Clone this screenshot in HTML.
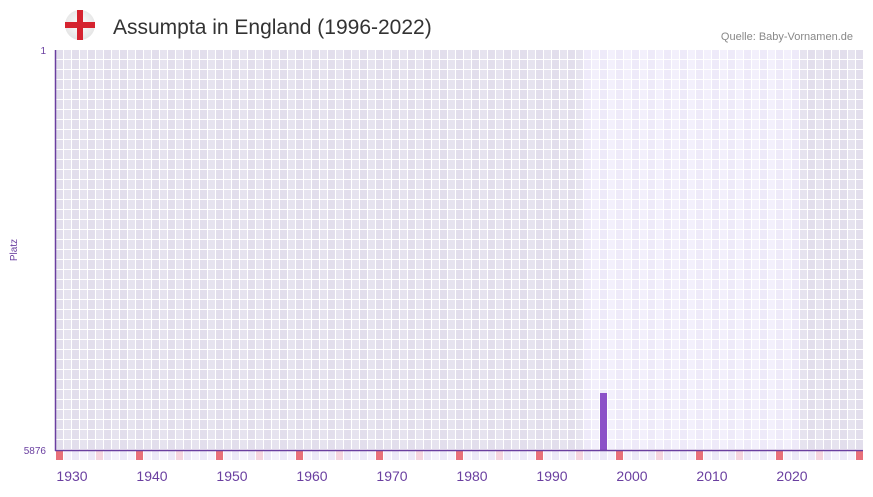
<!DOCTYPE html>
<html><head><meta charset="utf-8"><style>
body{margin:0;background:#fff;width:873px;height:492px;overflow:hidden;font-family:"Liberation Sans",sans-serif}
</style></head><body>
<svg id="s" width="873" height="492" xmlns="http://www.w3.org/2000/svg">
<defs><radialGradient id="g" cx="50%" cy="45%" r="55%"><stop offset="0" stop-color="#fff"/><stop offset="1" stop-color="#e4e4e4"/></radialGradient></defs>
<circle cx="80" cy="25" r="15" fill="url(#g)"/>
<rect x="65" y="22" width="30" height="6" fill="#d5232f"/>
<rect x="77" y="10" width="6" height="30" fill="#d5232f"/>
<text x="113" y="34" font-size="21" fill="#333">Assumpta in England (1996-2022)</text>
<text x="853" y="40" font-size="11" fill="#888" text-anchor="end">Quelle: Baby-Vornamen.de</text>
<g id="grid"></g>
<rect x="600" y="393" width="7" height="57" fill="#8c52c8"/>
<line x1="55.5" y1="50" x2="55.5" y2="451" stroke="#6a3fa0" stroke-width="1.5"/>
<line x1="55" y1="450.5" x2="863" y2="450.5" stroke="#6a3fa0" stroke-width="1.5"/>
<text x="46" y="54" font-size="10" fill="#6a3fa0" text-anchor="end">1</text>
<text x="46" y="454" font-size="10" fill="#6a3fa0" text-anchor="end">5876</text>
<text x="17" y="250" font-size="10" fill="#6a3fa0" text-anchor="middle" transform="rotate(-90 17 250)">Platz</text>
<g id="lab" font-size="14" fill="#6a3fa0" text-anchor="middle"></g>
</svg>
<script>
var g=document.getElementById('grid'),h='';
for(var c=0;c<101;c++){var yr=1928+c,x=56+c*8;
 var light=(yr>=1994&&yr<=2020);
 var col=light?(c%2?'#f3f0fc':'#eeeaf9'):(c%2?'#e6e3ef':'#e2deec');
 for(var r=0;r<40;r++)h+='<rect x="'+x+'" y="'+(50+r*10)+'" width="7" height="9" fill="'+col+'"/>';
 var d=yr%10,bc=d==8?'#e8707a':(d==3?'#f5d5df':(c%2?'#f4f1fc':'#ece8f8'));
 h+='<rect x="'+x+'" y="451" width="7" height="9" fill="'+bc+'"/>';
}
g.innerHTML=h;
var l='';for(var y=1930;y<=2020;y+=10)l+='<text x="'+(72+(y-1930)*8)+'" y="481">'+y+'</text>';
document.getElementById('lab').innerHTML=l;
</script>
</body></html>
